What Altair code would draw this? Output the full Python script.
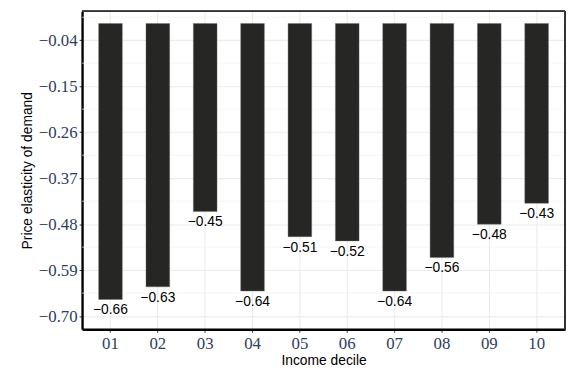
import altair as alt
import pandas as pd

deciles = ["01", "02", "03", "04", "05", "06", "07", "08", "09", "10"]
elasticity = [-0.66, -0.63, -0.45, -0.64, -0.51, -0.52, -0.64, -0.56, -0.48, -0.43]
y_ticks = [-0.04, -0.15, -0.26, -0.37, -0.48, -0.59, -0.70]
y_minor = [0.015, -0.095, -0.205, -0.315, -0.425, -0.535, -0.645]

df = pd.DataFrame({"decile": deciles, "value": elasticity})
minor_df = pd.DataFrame({"v": y_minor})

W, H = 489, 322
y_dom = [-0.7314, 0.0293]
label_color = "#2e3d5e"
serif = "Liberation Serif"
sans = "Liberation Sans"

yscale = alt.Scale(domain=y_dom, nice=False, zero=False)
xscale = alt.Scale(paddingInner=0.5, paddingOuter=0.35)

x_axis = alt.Axis(title="Income decile", labelAngle=0, bandPosition=0.5, grid=True)
y_axis = alt.Axis(title="Price elasticity of demand", values=y_ticks, format=".2f", grid=True)

minor = alt.Chart(minor_df).mark_rule(color="#f0f0f0", strokeWidth=0.7).encode(
    y=alt.Y("v:Q", scale=yscale, axis=y_axis)
)

bars = alt.Chart(df).mark_bar(color="#262624", stroke="#6a6a6a", strokeWidth=0.4).encode(
    x=alt.X("decile:N", scale=xscale, sort=deciles, axis=x_axis),
    y=alt.Y("value:Q", scale=yscale, axis=y_axis),
)

labels = alt.Chart(df).mark_text(
    baseline="top", dy=4, font=sans, fontSize=14, color="#000000"
).encode(
    x=alt.X("decile:N", scale=xscale, sort=deciles, axis=x_axis),
    y=alt.Y("value:Q", scale=yscale, axis=y_axis),
    text=alt.Text("value:Q", format=".2f"),
)

# panel frame (top and right edges)
top_border = alt.Chart(minor_df).mark_rule(color="#333333", strokeWidth=1.2).encode(
    x=alt.value(0), x2=alt.value(W), y=alt.value(0)
)
right_border = alt.Chart(minor_df).mark_rule(color="#333333", strokeWidth=1.2).encode(
    x=alt.value(W), y=alt.value(0), y2=alt.value(H)
)

chart = (
    alt.layer(minor, bars, labels, top_border, right_border)
    .properties(
        width=W,
        height=H,
        autosize=alt.AutoSizeParams(type="none"),
        padding={"left": 75, "top": 1, "right": 3, "bottom": 41},
        background="#ffffff",
    )
    .configure_view(strokeWidth=0)
    .configure_axis(
        titleFont=sans,
        titleFontSize=14,
        titleFontWeight="normal",
        titleColor="#000000",
        labelFont=serif,
        labelFontSize=17,
        labelColor=label_color,
        tickSize=3,
        tickColor="#333333",
        domainColor="#000000",
        domainWidth=2.4,
        gridColor="#ebebeb",
        gridWidth=1.1,
    )
    .configure_axisX(labelPadding=3, titlePadding=3)
    .configure_axisY(labelPadding=2, titlePadding=4)
)

chart.save("out.html", embed_options={"renderer": "svg", "actions": False})
